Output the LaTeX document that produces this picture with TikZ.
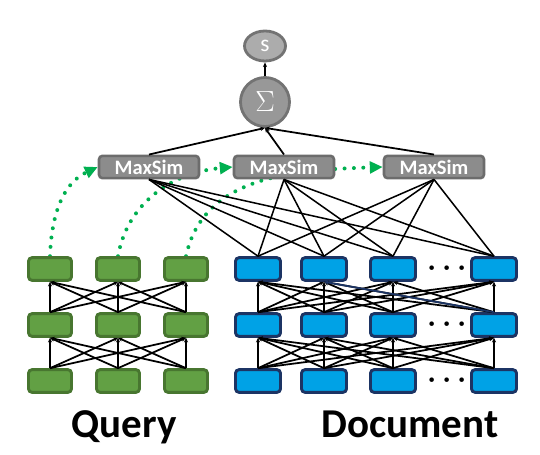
\documentclass[tikz,border=0pt]{standalone}
\usepackage{fontspec}
\setmainfont{Carlito}
\definecolor{qfill}{RGB}{98,160,68}
\definecolor{qedge}{RGB}{72,118,48}
\definecolor{dfill}{RGB}{0,162,230}
\definecolor{dedge}{RGB}{28,52,100}
\definecolor{msfill}{RGB}{140,140,140}
\definecolor{msedge}{RGB}{108,108,108}
\definecolor{sumfill}{RGB}{152,152,152}
\definecolor{sumedge}{RGB}{115,115,115}
\definecolor{scfill}{RGB}{172,172,172}
\definecolor{linkgreen}{RGB}{0,176,80}
\usetikzlibrary{arrows.meta,positioning,shapes.geometric,backgrounds}

\begin{document}
\begin{tikzpicture}[x=0.03cm,y=-0.03cm,
    qbox/.style={rectangle, rounded corners=3pt, draw=qedge, fill=qfill, line width=2.5pt,
                 minimum width=1.29cm, minimum height=0.68cm},
    dbox/.style={rectangle, rounded corners=3pt, draw=dedge, fill=dfill, line width=2.5pt,
                 minimum width=1.35cm, minimum height=0.68cm},
    msim/.style={rectangle, rounded corners=3pt, draw=msedge, fill=msfill, line width=2.2pt,
                 minimum width=3.0cm, minimum height=0.66cm, text=white,
                 font=\fontsize{17.5}{18}\selectfont\bfseries},
    sumnode/.style={circle, draw=sumedge, fill=sumfill, line width=2.4pt,
                 minimum size=1.47cm, inner sep=0pt, text=white},
    score/.style={ellipse, draw=sumedge, fill=scfill, line width=2.4pt,
                 minimum width=1.23cm, minimum height=0.9cm, inner sep=0pt, text=white,
                 font=\fontsize{20}{20}\selectfont},
    dots/.style={font=\fontsize{26}{26}\selectfont\boldmath},
    label/.style={anchor=base, font=\fontsize{35}{36}\selectfont\bfseries},
    net/.style={line width=1.5pt, -{Stealth[length=4pt,width=3.5pt]}},
    link/.style={linkgreen, line width=3.4pt, line cap=round, dash pattern=on 0pt off 8pt,
                 -{Triangle[length=11pt,width=10pt]}}
  ]
    \useasboundingbox (0,0) rectangle (540,455);

    % Query and document encoders
    \foreach \r/\y in {1/381,2/325,3/269} {
      \foreach \c/\x in {1/50,2/118,3/186}
        \node[qbox] (q\r\c) at (\x,\y) {};
      \foreach \c/\x in {1/258,2/324,3/393,4/494}
        \node[dbox] (d\r\c) at (\x,\y) {};
      \node[dots] (dots\r) at (447,\y) {$\cdots$};
    }

    % Layer connections
    \foreach \r/\s in {1/2,2/3} {
      \foreach \a in {1,2,3}
        \foreach \b in {1,2,3}
          \draw[net] (q\r\a.north) -- (q\s\b.south);
      \foreach \a in {1,...,4}
        \foreach \b in {1,...,4}
          \draw[net] (d\r\a.north) -- (d\s\b.south);
    }
    \draw[net, draw=dedge] (d24.north) -- (d32.south);

    % MaxSim and sum
    \node[msim] (ms1) at (149,167) {MaxSim};
    \node[msim] (ms2) at (284,167) {MaxSim};
    \node[msim] (ms3) at (434,167) {MaxSim};
    \node[sumnode] (sum) at (265,102) {\fontsize{30}{30}\selectfont$\Sigma$};
    \node[score] (s) at (265,46) {s};

    \foreach \m in {1,2,3}
      \foreach \b in {1,...,4}
        \draw[line width=1.3pt] (ms\m.south) -- (d3\b.north);
    \foreach \m in {1,2,3}
      \draw[net] (ms\m.north) -- (sum.south);
    \draw[net] (sum.north) -- (s.south);

    % Query tokens to MaxSim
    \begin{scope}[on background layer]
      \draw[link] (q31.north) to[out=88,in=205] (ms1.west);
      \draw[link] (q32.north) to[out=80,in=185] (ms2.west);
      \draw[link] (q33.north) to[out=78,in=182] (ms3.west);
    \end{scope}

    % Labels
    \node[label] (qlabel) at (124,437) {Query};
    \node[label] (dlabel) at (410,437) {Document};
  \end{tikzpicture}
\end{document}
